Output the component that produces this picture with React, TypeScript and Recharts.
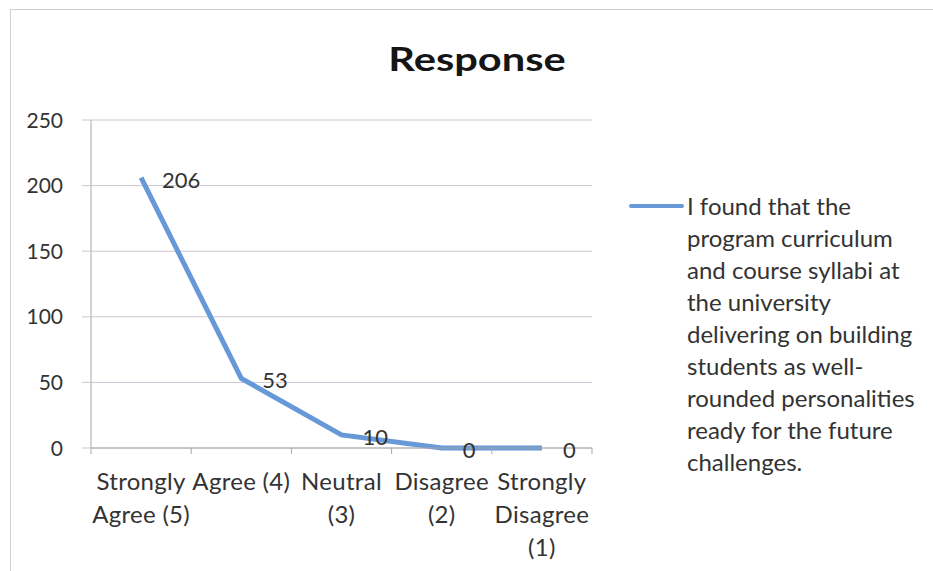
import React from "react";
import { LineChart, Line, XAxis, YAxis, CartesianGrid, LabelList } from "recharts";

const title = "Response";
const categories = ["Strongly Agree (5)", "Agree (4)", "Neutral (3)", "Disagree (2)", "Strongly Disagree (1)"];
const xTickLines = [["Strongly", "Agree (5)"], ["Agree (4)"], ["Neutral", "(3)"], ["Disagree", "(2)"], ["Strongly", "Disagree", "(1)"]];
const responses = [206, 53, 10, 0, 0];
const yTicks = [0, 50, 100, 150, 200, 250];
const seriesName =
  "I found that the program curriculum and course syllabi at the university delivering on building students as well-rounded personalities ready for the future challenges.";
const legendLines = [
  "I found that the",
  "program curriculum",
  "and course syllabi at",
  "the university",
  "delivering on building",
  "students as well-",
  "rounded personalities",
  "ready for the future",
  "challenges.",
];

const data = categories.map((c, i) => ({ category: c, value: responses[i] }));

const FONT = "Lato, 'Open Sans', sans-serif";
const TEXT = "#333333";
const LINE = "#6798d8";
const GRID = "#cdc6d4";
const AXIS = "#a8a8a8";

const W = 933;
const H = 571;
const PLOT_LEFT = 91;
const PLOT_RIGHT = 592;
const BAND = (PLOT_RIGHT - PLOT_LEFT) / categories.length;

const XTick = (props: any) => {
  const { x, y, payload } = props;
  const idx = payload.index;
  const lines = xTickLines[idx] || [];
  return (
    <g>
      <line x1={x - BAND / 2} x2={x - BAND / 2} y1={y} y2={y + 6} stroke={AXIS} strokeWidth={1} />
      {idx === categories.length - 1 && (
        <line x1={x + BAND / 2} x2={x + BAND / 2} y1={y} y2={y + 6} stroke={AXIS} strokeWidth={1} />
      )}
      <text textAnchor="middle" fill={TEXT} fontSize={24} fontFamily={FONT} letterSpacing={0.3}>
        {lines.map((l, i) => (
          <tspan key={i} x={x} y={y + 42 + i * 33}>
            {l}
          </tspan>
        ))}
      </text>
    </g>
  );
};

const YTick = (props: any) => {
  const { x, y, payload } = props;
  return (
    <text x={x} y={y} dy={7.5} textAnchor="end" fill={TEXT} fontSize={21} fontFamily={FONT}>
      {payload.value}
    </text>
  );
};

const DataLabel = (props: any) => {
  const { x, y, value } = props;
  return (
    <text x={x + 21} y={y + 2.5} dy={7.5} textAnchor="start" fill={TEXT} fontSize={22} fontFamily={FONT}>
      {value}
    </text>
  );
};

export default function App() {
  return (
    <div style={{ position: "absolute", left: 0, top: 0, width: W, height: H, overflow: "hidden", background: "#fff" }}>
      <div style={{ position: "absolute", left: 10, top: 9, width: W, height: 1, background: "#d0d0d0" }} />
      <div style={{ position: "absolute", left: 10, top: 9, width: 1, height: H, background: "#d0d0d0" }} />
      <div
        style={{
          position: "absolute",
          left: 337,
          width: 280,
          top: 39,
          textAlign: "center",
          fontFamily: FONT,
          fontWeight: 700,
          fontSize: 32,
          color: "#151515",
          lineHeight: "40px",
          transform: "scaleX(1.3)",
          transformOrigin: "center",
        }}
      >
        {title}
      </div>
      <div style={{ position: "absolute", left: 0, top: 0 }}>
        <LineChart width={W} height={H} data={data} margin={{ top: 120, right: W - PLOT_RIGHT, left: 0, bottom: 0 }}>
          <CartesianGrid horizontal={true} vertical={false} stroke={GRID} strokeWidth={1} />
          <XAxis
            dataKey="category"
            type="category"
            height={H - 448}
            padding={{ left: BAND / 2, right: BAND / 2 }}
            axisLine={{ stroke: AXIS, strokeWidth: 1 }}
            tickLine={false}
            tickSize={0}
            tickMargin={0}
            interval={0}
            tick={<XTick />}
          />
          <YAxis
            type="number"
            domain={[0, 250]}
            ticks={yTicks}
            width={PLOT_LEFT}
            axisLine={{ stroke: AXIS, strokeWidth: 1 }}
            tickLine={{ stroke: GRID, strokeWidth: 1 }}
            tickSize={9}
            tickMargin={19}
            tick={<YTick />}
            interval={0}
          />
          <Line
            type="linear"
            dataKey="value"
            name={seriesName}
            stroke={LINE}
            strokeWidth={5}
            dot={false}
            activeDot={false}
            isAnimationActive={false}
          >
            <LabelList dataKey="value" content={<DataLabel />} />
          </Line>
        </LineChart>
      </div>
      <div style={{ position: "absolute", left: 629, top: 190, fontFamily: FONT, fontSize: 24, color: TEXT }}>
        <div style={{ position: "absolute", left: 0, top: 14, width: 55, height: 4, borderRadius: 2, background: LINE }} />
        <div style={{ position: "absolute", left: 58, top: 0, lineHeight: "32px", whiteSpace: "nowrap" }} title={seriesName}>
          {legendLines.map((l, i) => (
            <div key={i}>{l}</div>
          ))}
        </div>
      </div>
    </div>
  );
}
